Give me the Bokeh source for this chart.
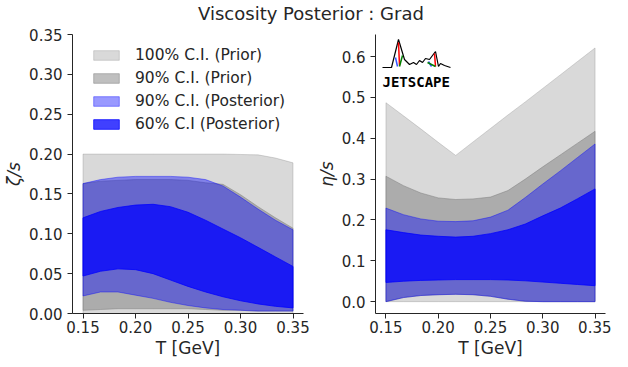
from bokeh.plotting import figure
from bokeh.models import FixedTicker, PrintfTickFormatter, Div, Range1d
from bokeh.layouts import row, column
from bokeh.embed import file_html
from bokeh.resources import INLINE
from bokeh.core.properties import value

# ---------------- data ----------------
T = [0.15, 0.1667, 0.1833, 0.2, 0.2167, 0.2333, 0.25, 0.2667, 0.2833, 0.3, 0.3167, 0.3333, 0.35]

# zeta/s (bulk)
zeta_prior100_hi = [0.200, 0.200, 0.200, 0.200, 0.200, 0.200, 0.200, 0.200, 0.200, 0.1995, 0.199, 0.195, 0.189]
zeta_prior100_lo = [0.0, 0.0, 0.0, 0.0, 0.0, 0.0, 0.0, 0.0, 0.0, 0.0, 0.0, 0.0, 0.0]
zeta_prior90_hi = [0.163, 0.166, 0.167, 0.168, 0.168, 0.168, 0.167, 0.164, 0.162, 0.149, 0.134, 0.120, 0.107]
zeta_prior90_lo = [0.004, 0.005, 0.006, 0.006, 0.006, 0.006, 0.006, 0.005, 0.004, 0.004, 0.003, 0.003, 0.003]
zeta_post90_hi = [0.163, 0.168, 0.171, 0.172, 0.172, 0.172, 0.171, 0.168, 0.160, 0.146, 0.131, 0.117, 0.105]
zeta_post90_lo = [0.022, 0.027, 0.027, 0.023, 0.019, 0.014, 0.010, 0.007, 0.005, 0.004, 0.003, 0.003, 0.003]
zeta_post60_hi = [0.120, 0.128, 0.133, 0.136, 0.137, 0.134, 0.127, 0.117, 0.106, 0.095, 0.083, 0.071, 0.059]
zeta_post60_lo = [0.047, 0.053, 0.056, 0.055, 0.050, 0.042, 0.034, 0.027, 0.021, 0.016, 0.012, 0.009, 0.007]

# eta/s (shear)
eta_prior100_hi = [0.487, 0.455, 0.423, 0.390, 0.358, 0.391, 0.424, 0.457, 0.489, 0.522, 0.555, 0.588, 0.621]
eta_prior100_lo = [0.0, 0.0, 0.0, 0.0, 0.0, 0.0, 0.0, 0.0, 0.0, 0.0, 0.0, 0.0, 0.0]
eta_prior90_hi = [0.307, 0.284, 0.266, 0.254, 0.250, 0.2515, 0.256, 0.272, 0.300, 0.330, 0.359, 0.388, 0.417]
eta_prior90_lo = [0.0, 0.010, 0.015, 0.017, 0.018, 0.017, 0.013, 0.006, 0.001, 0.0, 0.0, 0.0, 0.0]
eta_post90_hi = [0.229, 0.213, 0.2025, 0.197, 0.196, 0.198, 0.207, 0.224, 0.255, 0.288, 0.320, 0.353, 0.386]
eta_post90_lo = [0.0, 0.010, 0.015, 0.017, 0.018, 0.017, 0.013, 0.006, 0.001, 0.0, 0.0, 0.0, 0.0]
eta_post60_hi = [0.176, 0.169, 0.163, 0.160, 0.158, 0.160, 0.1665, 0.176, 0.190, 0.210, 0.229, 0.252, 0.276]
eta_post60_lo = [0.047, 0.050, 0.052, 0.053, 0.054, 0.054, 0.054, 0.053, 0.051, 0.048, 0.045, 0.042, 0.039]

x_ticks = [0.15, 0.20, 0.25, 0.30, 0.35]
zeta_ticks = [0.0, 0.05, 0.10, 0.15, 0.20, 0.25, 0.30, 0.35]
eta_ticks = [0.0, 0.1, 0.2, 0.3, 0.4, 0.5, 0.6]

labels = ["100% C.I. (Prior)", "90% C.I. (Prior)", "90% C.I. (Posterior)", "60% C.I (Posterior)"]
colors = ["#808080", "#808080", "#0000ff", "#0000ff"]
alphas = [0.3, 0.5, 0.4, 0.75]

TXT = "#262626"
FONT = "DejaVu Sans"
FW, FH = 231, 279


def style(p):
    p.outline_line_color = None
    p.grid.visible = False
    p.background_fill_color = "white"
    p.border_fill_color = "white"
    for ax in (p.xaxis[0], p.yaxis[0]):
        ax.axis_line_color = TXT
        ax.axis_line_width = 1
        ax.major_tick_line_color = TXT
        ax.major_tick_in = 0
        ax.major_tick_out = 5
        ax.minor_tick_line_color = None
        ax.major_label_text_font = FONT
        ax.major_label_text_font_size = "15px"
        ax.major_label_text_color = TXT
        ax.axis_label_text_font = FONT
        ax.axis_label_text_font_size = "17px"
        ax.axis_label_text_color = TXT
        ax.axis_label_text_font_style = "normal"
        ax.major_label_standoff = 2
        ax.axis_label_standoff = 2
    p.yaxis[0].major_label_standoff = 5
    p.xaxis[0].ticker = FixedTicker(ticks=x_ticks)
    p.xaxis[0].formatter = PrintfTickFormatter(format="%.2f")
    p.xaxis[0].axis_label = "T [GeV]"


def bands(p, bounds, legend):
    for (hi, lo), lab, c, a in zip(bounds, labels, colors, alphas):
        xs = T + T[::-1]
        ys = hi + lo[::-1]
        kw = dict(legend_label=lab) if legend else {}
        p.patch(xs, ys, fill_color=c, fill_alpha=a, line_color=c, line_alpha=a, line_width=1, **kw)


# ---------------- left panel ----------------
p1 = figure(frame_width=FW, frame_height=FH, x_range=Range1d(0.14, 0.36), y_range=Range1d(0.0, 0.35),
            output_backend="svg", toolbar_location=None,
            min_border_left=72, min_border_right=10, min_border_top=6, min_border_bottom=44)
style(p1)
bands(p1, [(zeta_prior100_hi, zeta_prior100_lo), (zeta_prior90_hi, zeta_prior90_lo),
           (zeta_post90_hi, zeta_post90_lo), (zeta_post60_hi, zeta_post60_lo)], True)
p1.yaxis[0].ticker = FixedTicker(ticks=zeta_ticks)
p1.yaxis[0].formatter = PrintfTickFormatter(format="%.2f")
p1.yaxis[0].axis_label = "ζ/s"
p1.yaxis[0].axis_label_text_font_style = "italic"

lg = p1.legend[0]
lg.location = (18, 180)
lg.margin = 0
lg.padding = 10
lg.border_line_color = None
lg.background_fill_alpha = 0
lg.label_text_font = FONT
lg.label_text_font_size = "15.5px"
lg.label_text_color = TXT
lg.glyph_width = 32
lg.glyph_height = 12
lg.label_height = 12
lg.spacing = 5
lg.label_standoff = 13

# ---------------- right panel ----------------
p2 = figure(frame_width=230, frame_height=FH, x_range=Range1d(0.14, 0.36), y_range=Range1d(-0.029, 0.654),
            output_backend="svg", toolbar_location=None,
            min_border_left=61, min_border_right=6, min_border_top=6, min_border_bottom=44)
style(p2)
bands(p2, [(eta_prior100_hi, eta_prior100_lo), (eta_prior90_hi, eta_prior90_lo),
           (eta_post90_hi, eta_post90_lo), (eta_post60_hi, eta_post60_lo)], False)
p2.yaxis[0].ticker = FixedTicker(ticks=eta_ticks)
p2.yaxis[0].formatter = PrintfTickFormatter(format="%.1f")
p2.yaxis[0].axis_label = "η/s"
p2.yaxis[0].axis_label_text_font_style = "italic"

# JETSCAPE logo (decoration), given as pixel offsets from the frame's top-left corner
def px2data(dx, dy):
    x = 0.14 + dx * (0.22 / 230)
    y = 0.654 - dy * (0.683 / FH)
    return x, y

logo_line = [(7, 33), (16, 33), (23, 5), (29, 25), (34, 30), (38, 28), (41, 30), (44, 26), (47, 28),
             (50, 24), (54, 25), (57, 21), (60, 17), (63, 32), (65, 29), (69, 31), (75, 33)]
lx, ly = zip(*[px2data(a, b) for a, b in logo_line])
p2.line(list(lx), list(ly), line_color="black", line_width=1.2)
for seg, col in [([(23, 8), (24, 31)], "red"), ([(20, 23), (22, 32)], "#3355ff"), ([(24, 32), (27, 21)], "green"),
                 ([(59, 19), (60, 32)], "red"), ([(53, 27), (56, 32)], "#3355ff"), ([(52, 28), (60, 32)], "green")]:
    sx, sy = zip(*[px2data(a, b) for a, b in seg])
    p2.line(list(sx), list(sy), line_color=col, line_width=1.5)
tx, ty = px2data(7, 47)
p2.text([tx], [ty], text=["JETSCAPE"], text_font=value("DejaVu Sans Mono"), text_font_style="bold",
        text_font_size="14px", text_color="black", text_baseline="alphabetic", text_align="left")

title = Div(text="Viscosity Posterior : Grad", width=612, height=18,
            styles={"font-size": "18px", "font-family": "DejaVu Sans", "color": TXT,
                    "text-align": "center", "line-height": "18px", "width": "612px"})

layout = column(title, row(p1, p2))

open("out.html", "w").write(file_html(layout, INLINE))
